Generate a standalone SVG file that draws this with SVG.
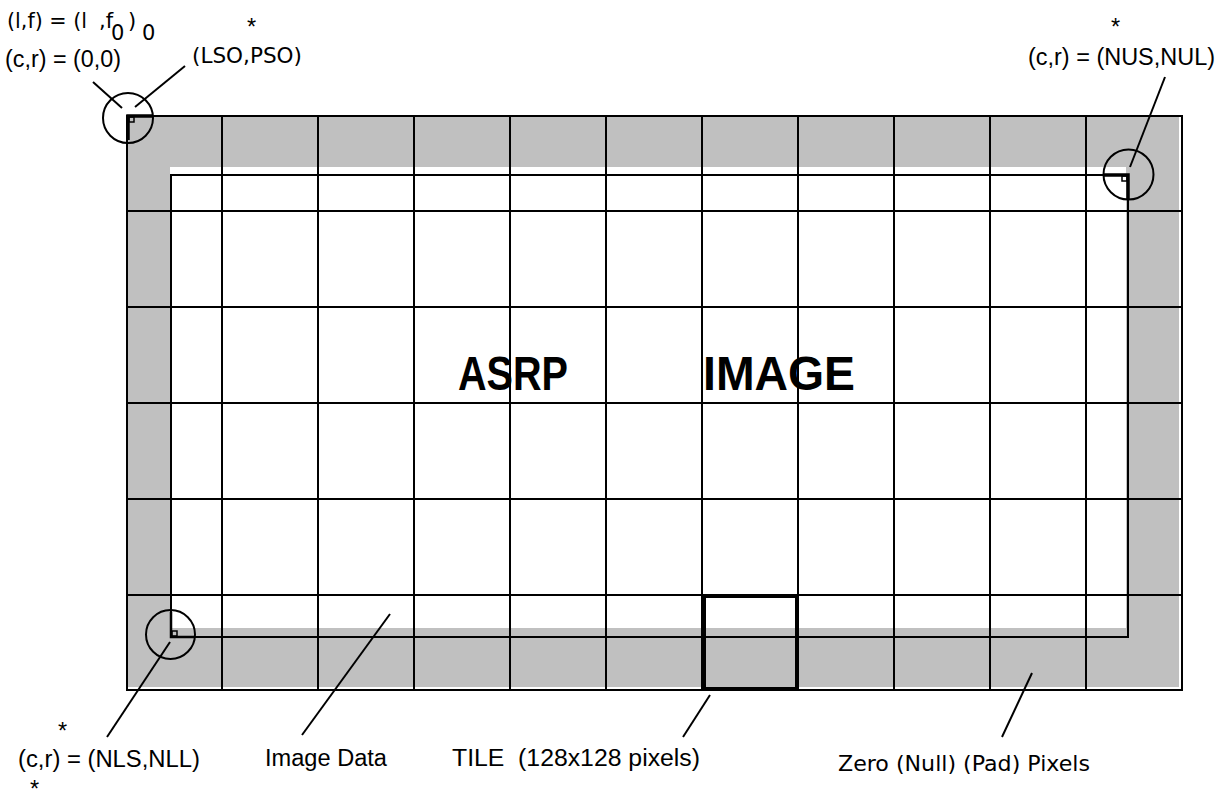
<svg xmlns="http://www.w3.org/2000/svg" width="1228" height="800" viewBox="0 0 1228 800">
<style>
.t{font-family:"Liberation Sans",Arial,sans-serif;font-size:23.5px;fill:#000}
.cg{font-family:"DejaVu Sans","Liberation Sans",sans-serif;font-size:21px;fill:#000}
.sm{font-family:"DejaVu Sans","Liberation Sans",sans-serif;font-size:21px;fill:#000}
.big{font-family:"Liberation Sans",Arial,sans-serif;font-size:48px;font-weight:bold;fill:#000}
.g{stroke:#000;stroke-width:2;fill:none}
.lead{stroke:#000;stroke-width:2;fill:none}
</style>
<rect width="1228" height="800" fill="#fff"/>
<g id="image">
  <rect x="127" y="116" width="1052" height="571" fill="#c0c0c0"/>
  <rect x="170" y="167" width="956" height="461" fill="#fff"/>
  <g id="grid" class="g">
    <path d="M222 116V690M318 116V690M414 116V690M510 116V690M606 116V690M702 116V690M798 116V690M894 116V690M990 116V690M1086 116V690"/>
    <path d="M127 211H1183M127 307H1183M127 403H1183M127 499H1183M127 595H1183"/>
  </g>
  <rect id="inner-border" x="171" y="175" width="957" height="462" class="g"/>
  <rect id="outer-border" x="127" y="116" width="1055" height="574" class="g"/>
  <text class="big" x="458" y="390" textLength="110" lengthAdjust="spacingAndGlyphs">ASRP</text>
  <text class="big" x="703" y="390" textLength="152" lengthAdjust="spacingAndGlyphs">IMAGE</text>
</g>
<g id="tile">
  <rect x="704" y="596" width="93" height="93" fill="none" stroke="#000" stroke-width="4"/>
</g>
<g id="corner-ul">
  <circle cx="128" cy="118" r="25" class="g"/>
  <path d="M128 140V116H152" fill="none" stroke="#000" stroke-width="3.5"/>
  <rect x="129" y="117" width="5" height="5" fill="none" stroke="#000" stroke-width="1.5"/>
</g>
<g id="corner-ur">
  <circle cx="1128.5" cy="174.5" r="25" class="g"/>
  <path d="M1104 175H1128V199" fill="none" stroke="#000" stroke-width="3.5"/>
  <rect x="1122" y="176" width="5" height="5" fill="none" stroke="#000" stroke-width="1.5"/>
</g>
<g id="corner-ll">
  <circle cx="170.5" cy="634.5" r="24.5" class="g"/>
  <path d="M171 612V637H194" fill="none" stroke="#000" stroke-width="2.5"/>
  <rect x="172" y="631" width="5" height="5" fill="none" stroke="#000" stroke-width="1.5"/>
</g>
<g id="connectors" class="lead">
  <line x1="93" y1="82" x2="122" y2="108"/>
  <line x1="185" y1="66" x2="135" y2="107"/>
  <line x1="1165" y1="77" x2="1130" y2="167"/>
  <line x1="170" y1="642" x2="107" y2="737"/>
  <line x1="390" y1="614" x2="302" y2="735"/>
  <line x1="710" y1="695" x2="683" y2="737"/>
  <line x1="1032" y1="673" x2="1002" y2="737"/>
</g>
<g id="labels">
  <text class="sm" x="7" y="28" textLength="80" lengthAdjust="spacingAndGlyphs">(l,f) = (l</text>
  <text class="sm" x="99" y="28">,f</text>
  <text class="sm" x="111" y="40">0</text>
  <text class="sm" x="128" y="28">)</text>
  <text class="sm" x="142" y="40">0</text>
  <text class="t" x="5" y="67" textLength="116" lengthAdjust="spacingAndGlyphs">(c,r) = (0,0)</text>
  <text class="t" x="247" y="35">*</text>
  <text class="cg" x="192" y="63" textLength="110" lengthAdjust="spacingAndGlyphs">(LSO,PSO)</text>
  <text class="t" x="1111" y="35">*</text>
  <text class="t" x="1028" y="65" textLength="187" lengthAdjust="spacingAndGlyphs">(c,r) = (NUS,NUL)</text>
  <text class="t" x="58" y="739">*</text>
  <text class="t" x="18" y="767" textLength="182" lengthAdjust="spacingAndGlyphs">(c,r) = (NLS,NLL)</text>
  <text class="t" x="30" y="797">*</text>
  <text class="t" x="265" y="766" textLength="122" lengthAdjust="spacingAndGlyphs">Image Data</text>
  <text class="t" x="452" y="766" textLength="248" lengthAdjust="spacingAndGlyphs" xml:space="preserve">TILE  (128x128 pixels)</text>
  <text class="cg" x="838" y="771" textLength="252" lengthAdjust="spacingAndGlyphs">Zero (Null) (Pad) Pixels</text>
</g>
</svg>
